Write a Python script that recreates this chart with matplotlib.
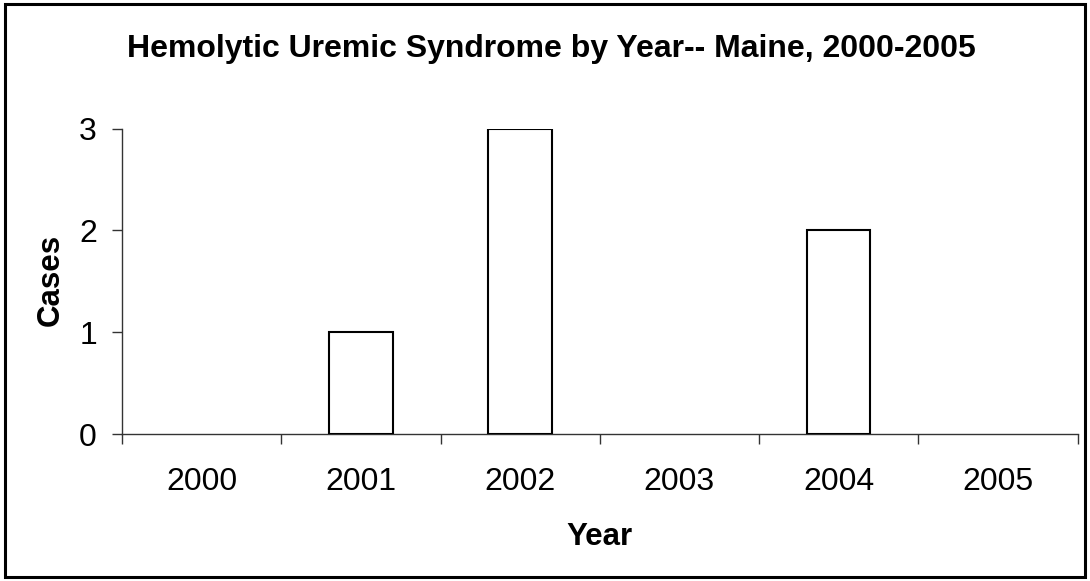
import matplotlib
matplotlib.use("Agg")
import matplotlib.pyplot as plt
from matplotlib.patches import Rectangle

years = ["2000", "2001", "2002", "2003", "2004", "2005"]
cases = [0, 1, 3, 0, 2, 0]

plt.rcParams['font.family'] = ['Liberation Sans', 'DejaVu Sans']

fig = plt.figure(figsize=(10.9, 5.81), dpi=100)
ax = fig.add_axes([122/1090, 1 - 434/581, (1077.5 - 122)/1090, (434 - 128.5)/581])

x = list(range(len(years)))
bx = [i for i, v in zip(x, cases) if v > 0]
bv = [v for v in cases if v > 0]
ax.bar(bx, bv, width=0.4, color='white', edgecolor='black', linewidth=1.5, zorder=3)

ax.set_xlim(-0.5, len(years) - 0.5)
ax.set_ylim(0, 3)
ax.set_yticks([0, 1, 2, 3])
ax.set_yticklabels(["0", "1", "2", "3"], fontsize=23)

ax.set_xticks([i + 0.5 for i in range(-1, len(years))])
ax.set_xticklabels([])
ax.set_xticks(x, minor=True)
ax.set_xticklabels(years, minor=True, fontsize=23)
ax.tick_params(axis='x', which='minor', length=0, pad=23.5)
ax.tick_params(axis='x', which='major', length=7, width=1, direction='out', color='#333333')
ax.tick_params(axis='y', length=7, width=1, direction='out', color='#333333', pad=11)

for s in ['top', 'right']:
    ax.spines[s].set_visible(False)
for s in ['left', 'bottom']:
    ax.spines[s].set_linewidth(1)
    ax.spines[s].set_color('#333333')

ax.set_xlabel("Year", fontsize=22.5, fontweight='bold', va='baseline')
ax.xaxis.set_label_coords(0.4997, (434 - 545) / 305.5)
ax.set_ylabel("Cases", fontsize=22.5, fontweight='bold', va='baseline')
ax.yaxis.set_label_coords((59 - 122) / 955.5, 0.504)

fig.text(551.5/1090, 1 - 57/581, "Hemolytic Uremic Syndrome by Year-- Maine, 2000-2005",
         ha='center', va='baseline', fontsize=23, fontweight='bold')

fig.patches.append(Rectangle((5/1090, 4/581), 1080/1090, 573/581, transform=fig.transFigure,
                             fill=False, edgecolor='black', linewidth=2.2))

fig.savefig("out.png", dpi=100)
